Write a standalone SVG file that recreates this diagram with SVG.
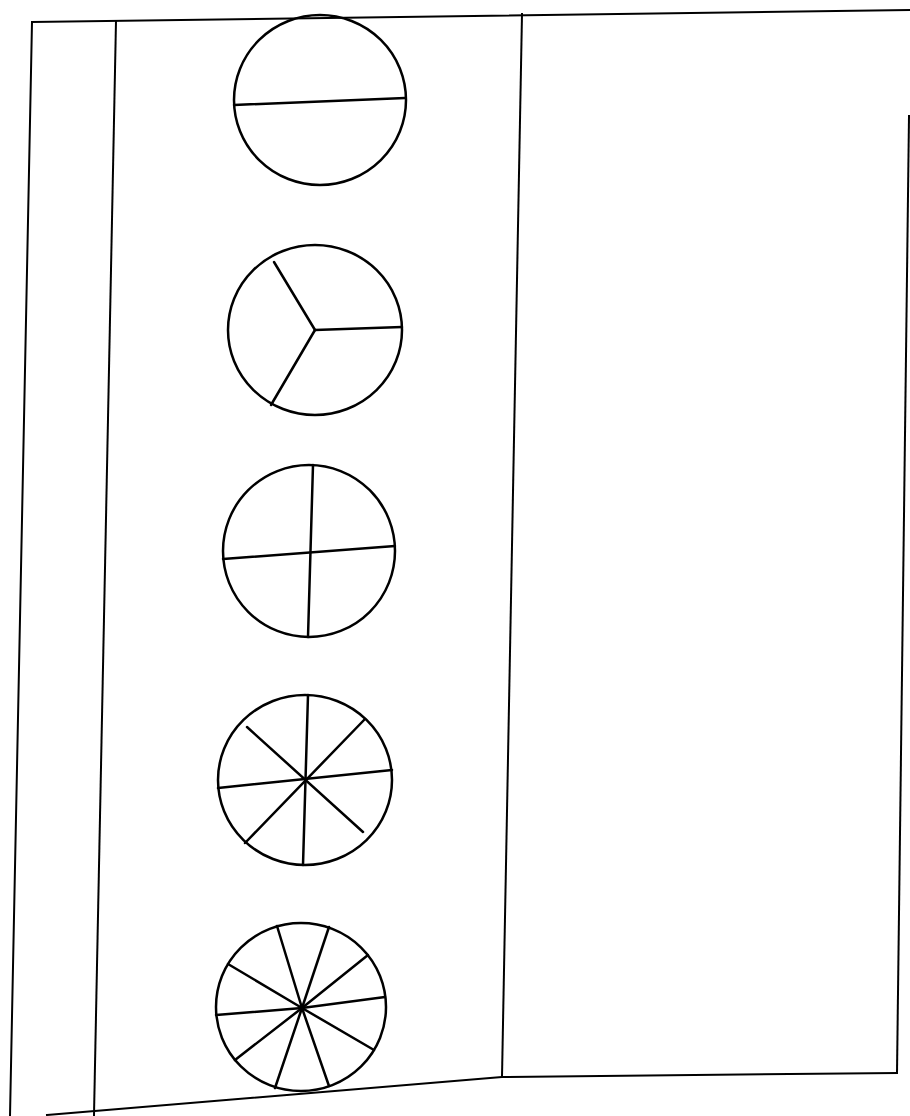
<svg xmlns="http://www.w3.org/2000/svg" width="910" height="1116" viewBox="0 0 910 1116">
<style>
.f{fill:none;stroke:#000;stroke-width:2;stroke-linecap:square}
.c{fill:none;stroke:#000;stroke-width:2.5}
.s{stroke:#000;stroke-width:2.5;stroke-linecap:round}
</style>
<rect width="910" height="1116" fill="#fff"/>
<g id="frame">
<path class="f" d="M32,22 L910,10"/>
<path class="f" d="M32,22 L10,1116"/>
<path class="f" d="M116,21 L94,1115"/>
<path class="f" d="M522,14 L502,1077"/>
<path class="f" d="M909,116 L897,1073"/>
<path class="f" d="M47,1115 L502,1077 L897,1073"/>
</g>
<g id="circle-halves">
<ellipse class="c" cx="320" cy="100" rx="86" ry="85"/>
<line class="s" x1="234" y1="105" x2="405" y2="98"/>
</g>
<g id="circle-thirds">
<ellipse class="c" cx="315" cy="330" rx="87" ry="85"/>
<line class="s" x1="315" y1="330" x2="274" y2="262"/>
<line class="s" x1="315" y1="330" x2="402" y2="327"/>
<line class="s" x1="315" y1="330" x2="271" y2="405"/>
</g>
<g id="circle-quarters">
<ellipse class="c" cx="309" cy="551" rx="86" ry="86"/>
<line class="s" x1="313" y1="465" x2="308" y2="637"/>
<line class="s" x1="223" y1="559" x2="395" y2="546"/>
</g>
<g id="circle-eighths">
<ellipse class="c" cx="305" cy="780" rx="87" ry="85"/>
<line class="s" x1="308" y1="695" x2="303" y2="865"/>
<line class="s" x1="365" y1="719" x2="245" y2="843"/>
<line class="s" x1="392" y1="770" x2="218" y2="788"/>
<line class="s" x1="363" y1="832" x2="247" y2="727"/>
</g>
<g id="circle-tenths">
<ellipse class="c" cx="301" cy="1007" rx="85" ry="84"/>
<line class="s" x1="302" y1="1008" x2="277" y2="926"/>
<line class="s" x1="302" y1="1008" x2="329" y2="927"/>
<line class="s" x1="302" y1="1008" x2="368" y2="955"/>
<line class="s" x1="302" y1="1008" x2="385" y2="997"/>
<line class="s" x1="302" y1="1008" x2="374" y2="1050"/>
<line class="s" x1="302" y1="1008" x2="329" y2="1086"/>
<line class="s" x1="302" y1="1008" x2="275" y2="1088"/>
<line class="s" x1="302" y1="1008" x2="235" y2="1060"/>
<line class="s" x1="302" y1="1008" x2="216" y2="1015"/>
<line class="s" x1="302" y1="1008" x2="228" y2="964"/>
</g>
</svg>
